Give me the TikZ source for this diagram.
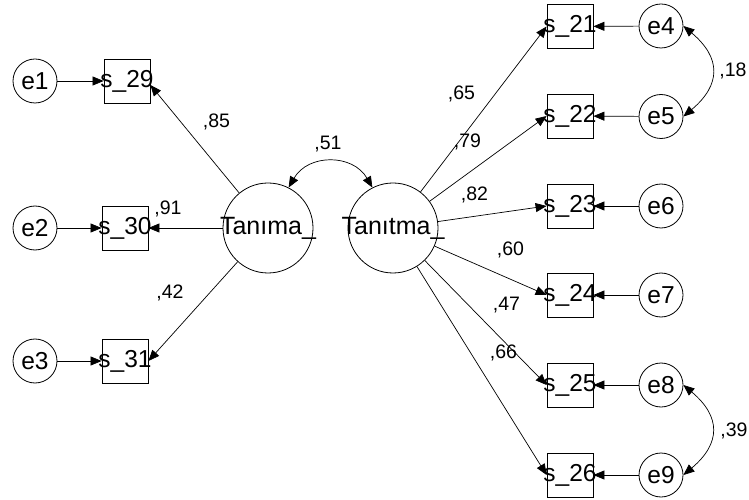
\documentclass[tikz,border=0pt]{standalone}
\usepackage{fontspec}
\setmainfont{Liberation Sans}
\usetikzlibrary{arrows.meta,calc}
\begin{document}
\begin{tikzpicture}[x=1bp,y=-1bp,
  obs/.style={draw=black, line width=0.8bp, rectangle, minimum width=46bp, minimum height=44bp, inner sep=0pt, font=\fontsize{24.5bp}{24.5bp}\selectfont},
  err/.style={draw=black, circle, line width=0.8bp, minimum size=44bp, inner sep=0pt, font=\fontsize{24.5bp}{24.5bp}\selectfont},
  lat/.style={draw=black, circle, line width=0.8bp, minimum size=90bp, inner sep=0pt, font=\fontsize{25bp}{25bp}\selectfont},
  reg/.style={-{Triangle[length=11bp,width=9bp]}, line width=0.7bp},
  cov/.style={{Triangle[length=11bp,width=9bp]}-{Triangle[length=11bp,width=9bp]}, line width=0.7bp},
  lbl/.style={font=\fontsize{19.5bp}{19.5bp}\selectfont, inner sep=0pt}
]
\useasboundingbox (0,0) rectangle (749,500);

% left
\node[err] (e1) at (35,81) {\makebox[0pt]{e1}};
\node[err] (e2) at (35,228) {\makebox[0pt]{e2}};
\node[err] (e3) at (35,361) {\makebox[0pt]{e3}};
\node[obs] (s29) at (127,81) {\makebox[0pt]{s\_29}};
\node[obs] (s30) at (125,228) {\makebox[0pt]{s\_30}};
\node[obs] (s31) at (125,361) {\makebox[0pt]{s\_31}};

% latents
\node[lat] (tanima) at (268,228) {\makebox[0pt]{Tanıma\_}};
\node[lat] (tanitma) at (393,228) {\makebox[0pt]{Tanıtma\_}};

% right
\node[obs] (s21) at (570,26.5) {\makebox[0pt]{s\_21}};
\node[obs] (s22) at (570,116) {\makebox[0pt]{s\_22}};
\node[obs] (s23) at (570,206) {\makebox[0pt]{s\_23}};
\node[obs] (s24) at (570,295) {\makebox[0pt]{s\_24}};
\node[obs] (s25) at (570,385) {\makebox[0pt]{s\_25}};
\node[obs] (s26) at (570,475) {\makebox[0pt]{s\_26}};
\node[err] (e4) at (661,26) {\makebox[0pt]{e4}};
\node[err] (e5) at (661,116.5) {\makebox[0pt]{e5}};
\node[err] (e6) at (661,206) {\makebox[0pt]{e6}};
\node[err] (e7) at (661,295) {\makebox[0pt]{e7}};
\node[err] (e8) at (661,385) {\makebox[0pt]{e8}};
\node[err] (e9) at (661,475) {\makebox[0pt]{e9}};

% error arrows
\draw[reg] (e1) -- (s29);
\draw[reg] (e2) -- (s30);
\draw[reg] (e3) -- (s31);
\draw[reg] (e4) -- (s21);
\draw[reg] (e5) -- (s22);
\draw[reg] (e6) -- (s23);
\draw[reg] (e7) -- (s24);
\draw[reg] (e8) -- (s25);
\draw[reg] (e9) -- (s26);

% loadings
\draw[reg] (tanima) -- ($(s29.east)+(0,4)$);
\draw[reg] (tanima) -- (s30.east);
\draw[reg] (tanima) -- (s31.east);
\draw[reg] (tanitma) -- (s21.west);
\draw[reg] (tanitma) -- (s22.west);
\draw[reg] (tanitma) -- (s23.west);
\draw[reg] (tanitma) -- (s24.west);
\draw[reg] (tanitma) -- (s25.west);
\draw[reg] (tanitma) -- (s26.west);

% covariances
\draw[cov] (tanima.63) to[bend left=60, looseness=1.2] (tanitma.117);
\draw[cov] (e4.east) to[bend left=50, looseness=1.4] (e5.east);
\draw[cov] (e8.east) to[bend left=50, looseness=1.4] (e9.east);

% labels
\node[lbl] (l85) at (216.5,121.5) {,85};
\node[lbl] (l91) at (168,209) {,91};
\node[lbl] (l42) at (170,293) {,42};
\node[lbl] (l51) at (328,144) {,51};
\node[lbl] (l65) at (461.5,93.5) {,65};
\node[lbl] (l79) at (467.5,141.5) {,79};
\node[lbl] (l82) at (474.5,195) {,82};
\node[lbl] (l60) at (510.5,250) {,60};
\node[lbl] (l47) at (506.5,305) {,47};
\node[lbl] (l66) at (503.5,353) {,66};
\node[lbl] (l18) at (733,71) {,18};
\node[lbl] (l39) at (734,431) {,39};
\end{tikzpicture}
\end{document}
